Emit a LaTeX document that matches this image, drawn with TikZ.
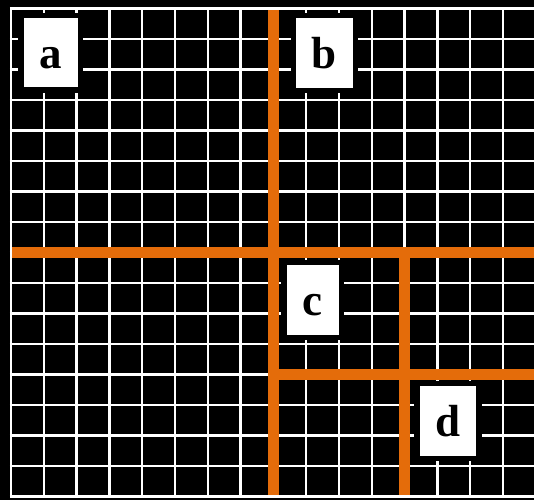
\documentclass[tikz,border=0pt]{standalone}
\usepackage{fontspec}
\setmainfont{Liberation Serif}
\definecolor{gridorange}{RGB}{228,108,10}
\tikzset{
  gridline/.style={white, line width=2.4pt},
  divider/.style={gridorange, line width=11.5pt},
  labelbox/.style={fill=white, draw=black, line width=5.6pt, minimum height=74.8pt,
    inner xsep=18.6pt, inner ysep=0pt, text height=30.6pt, text depth=0pt,
    font=\fontsize{45}{45}\selectfont\bfseries, text=black}
}
\begin{document}
\begin{tikzpicture}[x=1pt, y=-1pt]
  \fill[black] (0,0) rectangle (534,500);
  \useasboundingbox (0,0) rectangle (534,500);
  \clip (0,0) rectangle (534,500);
  % grid
  \foreach \k in {0,...,15} {
    \draw[gridline] ({11+32.8*\k},8.5) -- ({11+32.8*\k},496.5);
  }
  \foreach \j in {0,...,16} {
    \draw[gridline] (9.8,{8.5+30.5*\j}) -- (540,{8.5+30.5*\j});
  }
  % orange dividers
  \coordinate (v1top) at (273.4,10.2);
  \coordinate (v1bot) at (273.4,495.2);
  \coordinate (h1left) at (12.2,252.5);
  \coordinate (h1right) at (540,252.5);
  \coordinate (v2top) at (404.6,252.5);
  \coordinate (v2bot) at (404.6,495.2);
  \coordinate (h2left) at (273.4,374.5);
  \coordinate (h2right) at (540,374.5);
  \draw[divider] (v1top) -- (v1bot);
  \draw[divider] (h1left) -- (h1right);
  \draw[divider] (v2top) -- (v2bot);
  \draw[divider] (h2left) -- (h2right);
  % labels
  \node[labelbox] (a) at (50.8,52.8) {a};
  \node[labelbox] (b) at (324.5,53) {b};
  \node[labelbox] (c) at (312.8,300) {c};
  \node[labelbox] (d) at (448,421) {d};
\end{tikzpicture}
\end{document}
